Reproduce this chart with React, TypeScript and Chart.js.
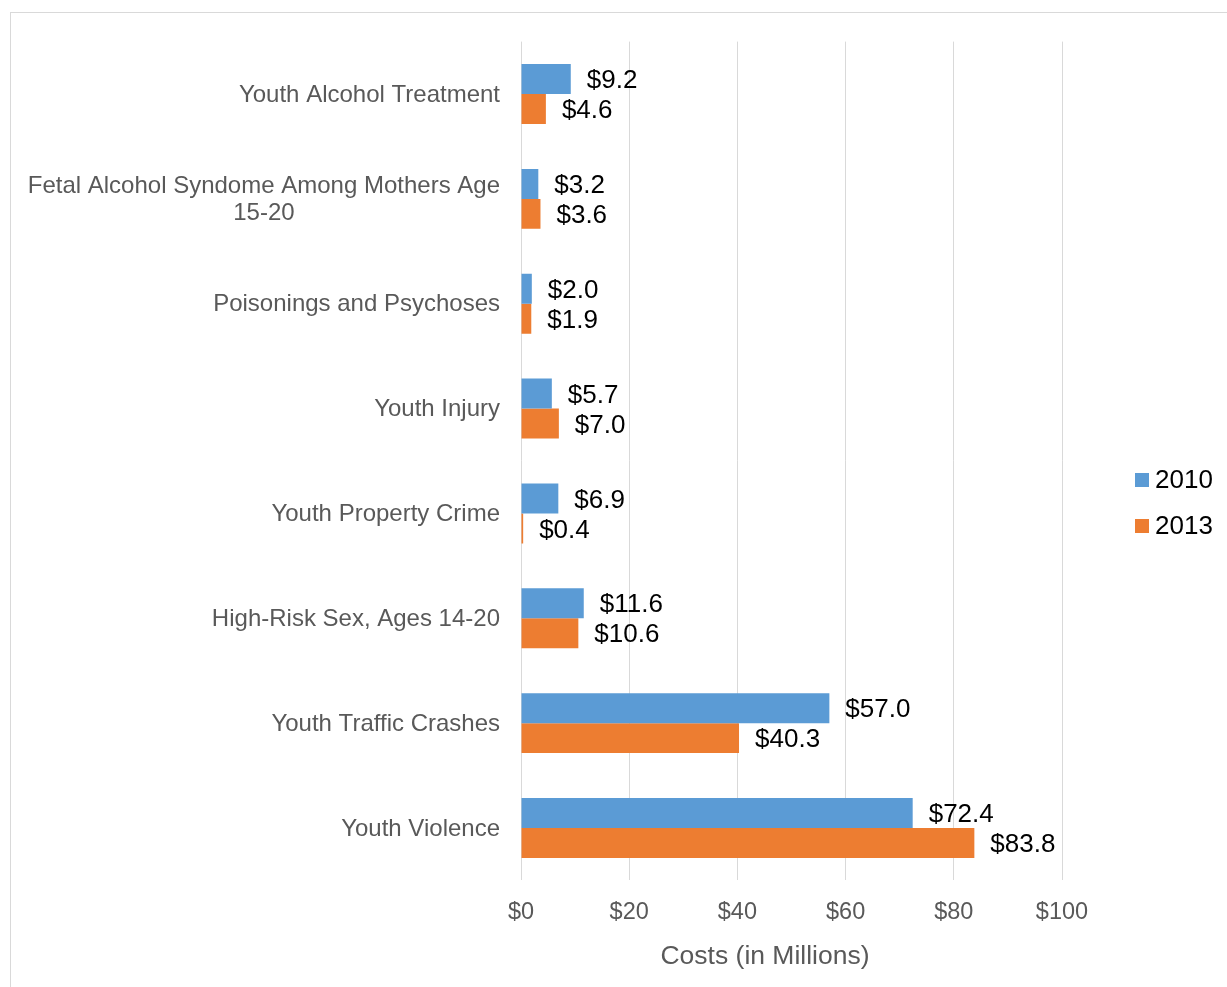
import React, { useEffect, useRef } from "react";
import { Chart, registerables } from "chart.js";

Chart.register(...registerables);

const categories: string[][] = [
  ["Youth Alcohol Treatment"],
  ["Fetal Alcohol Syndome Among Mothers Age", "15-20"],
  ["Poisonings and Psychoses"],
  ["Youth Injury"],
  ["Youth Property Crime"],
  ["High-Risk Sex, Ages 14-20"],
  ["Youth Traffic Crashes"],
  ["Youth Violence"],
];
const values2010: number[] = [9.2, 3.2, 2.0, 5.7, 6.9, 11.6, 57.0, 72.4];
const values2013: number[] = [4.6, 3.6, 1.9, 7.0, 0.4, 10.6, 40.3, 83.8];
const seriesNames: string[] = ["2010", "2013"];
const seriesColors: string[] = ["#5B9BD5", "#ED7D31"];
const xTicks: number[] = [0, 20, 40, 60, 80, 100];
const axisTitle = "Costs (in Millions)";

const FONT = "'Liberation Sans', Arial, sans-serif";

const customPlugin = {
  id: "customDraw",
  afterDatasetsDraw(chart: any) {
    const ctx = chart.ctx;
    const area = chart.chartArea;
    const yScale = chart.scales.y;
    ctx.save();
    // category labels
    ctx.font = `24px ${FONT}`;
    ctx.fillStyle = "#595959";
    ctx.textBaseline = "middle";
    ctx.textAlign = "center";
    const lh = 27;
    categories.forEach((lines, i) => {
      const cy = yScale.getPixelForValue(i);
      const maxW = Math.max(...lines.map((l) => ctx.measureText(l).width));
      const right = area.left - 21;
      const cx = right - maxW / 2;
      const startY = cy - ((lines.length - 1) * lh) / 2 + 1;
      lines.forEach((l, j) => ctx.fillText(l, cx, startY + j * lh));
    });
    // axis title
    ctx.font = `26.5px ${FONT}`;
    ctx.fillText(axisTitle, 765, 957);
    // data labels
    ctx.font = `26px ${FONT}`;
    ctx.fillStyle = "#000000";
    ctx.textAlign = "left";
    chart.data.datasets.forEach((ds: any, di: number) => {
      const meta = chart.getDatasetMeta(di);
      meta.data.forEach((bar: any, i: number) => {
        const v = ds.data[i];
        ctx.fillText("$" + v.toFixed(1), bar.x + 16, bar.y + 2);
      });
    });
    // legend
    const legendY = [480, 526];
    seriesNames.forEach((name, i) => {
      ctx.fillStyle = seriesColors[i];
      ctx.fillRect(1135, legendY[i] - 7, 14, 14);
      ctx.fillStyle = "#000000";
      ctx.fillText(name, 1155, legendY[i] + 1);
    });
    ctx.restore();
  },
};

export default function App() {
  const ref = useRef<HTMLCanvasElement>(null);
  useEffect(() => {
    if (!ref.current) return;
    const chart = new Chart(ref.current, {
      type: "bar",
      data: {
        labels: categories.map((c) => c.join(" ")),
        datasets: [
          {
            label: seriesNames[0],
            data: values2010,
            backgroundColor: seriesColors[0],
            categoryPercentage: 0.572,
            barPercentage: 1,
          },
          {
            label: seriesNames[1],
            data: values2013,
            backgroundColor: seriesColors[1],
            categoryPercentage: 0.572,
            barPercentage: 1,
          },
        ],
      },
      options: {
        indexAxis: "y",
        responsive: false,
        animation: false,
        devicePixelRatio: 1,
        layout: { padding: { top: 41.6, right: 165, bottom: 0, left: 0 } },
        plugins: { legend: { display: false }, tooltip: { enabled: false } },
        scales: {
          x: {
            min: 0,
            max: 100,
            afterBuildTicks: (scale: any) => {
              scale.ticks = xTicks.map((v) => ({ value: v }));
            },
            afterFit: (scale: any) => {
              scale.height = 106.6;
            },
            ticks: {
              color: "#595959",
              font: { family: FONT, size: 23.5 },
              padding: 18,
              callback: (v: any) => "$" + v,
            },
            grid: { color: "#d9d9d9", lineWidth: 1, drawTicks: false },
            border: { display: false },
            title: { display: false },
          },
          y: {
            afterFit: (scale: any) => {
              scale.width = 521;
            },
            ticks: { display: false },
            grid: { display: false },
            border: { display: false },
          },
        },
      },
      plugins: [customPlugin],
    });
    return () => chart.destroy();
  }, []);
  return (
    <div style={{ position: "absolute", left: 0, top: 0, width: 1227, height: 987, background: "#fff", overflow: "hidden" }}>
      <div
        style={{
          position: "absolute",
          left: 10,
          top: 12,
          width: 1240,
          height: 1000,
          border: "1px solid #d9d9d9",
          boxSizing: "border-box",
        }}
      />
      <canvas ref={ref} width={1227} height={987} style={{ position: "absolute", left: 0, top: 0 }} />
    </div>
  );
}
